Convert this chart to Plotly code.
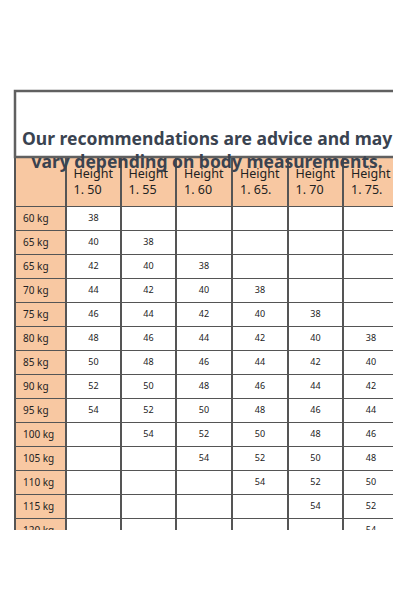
import plotly.graph_objects as go

weights = ["60 kg","65 kg","65 kg","70 kg","75 kg","80 kg","85 kg","90 kg","95 kg","100 kg","105 kg","110 kg","115 kg","120 kg"]
heights = ["Height<br>1. 50","Height<br>1. 55","Height<br>1. 60","Height<br>1. 65.","Height<br>1. 70","Height<br>1. 75."]
h150 = ["38","40","42","44","46","48","50","52","54","","","","",""]
h155 = ["","38","40","42","44","46","48","50","52","54","","","",""]
h160 = ["","","38","40","42","44","46","48","50","52","54","","",""]
h165 = ["","","","38","40","42","44","46","48","50","52","54","",""]
h170 = ["","","","","38","40","42","44","46","48","50","52","54",""]
h175 = ["","","","","","38","40","42","44","46","48","50","52","54"]
title = "Our recommendations are advice and may<br>vary depending on body measurements."

W, H = 401, 601
peach = "#f8c8a2"
line = "#555555"
n = len(weights)

fig = go.Figure(go.Table(
    domain=dict(x=[7/W, 391/W], y=[1-522/H, 1-149/H]),
    columnwidth=[51,55,55,56,56,55,56],
    header=dict(values=["<b>"+h+"</b>" if False else h for h in [""]+heights], fill_color=peach,
                line=dict(color=line, width=1.5),
                font=dict(family="Noto Sans", size=12.5, color="#222"), align="center", height=37),
    cells=dict(values=[weights, h150, h155, h160, h165, h170, h175],
               fill_color=[[peach]*n] + [["white"]*n]*6,
               line=dict(color=line, width=1.5),
               font=dict(family="Noto Sans", size=[10]+[9]*6, color="#222"),
               align=["left"]+["center"]*6, height=24)
))
fig.add_shape(type="rect", xref="paper", yref="paper", x0=7/W, x1=391/W, y0=1-149/H, y1=1-83/H,
              line=dict(color="#606060", width=2.5), fillcolor="white")
fig.add_annotation(text="<b>"+title+"</b>", xref="paper", yref="paper", x=199/W, y=1-116/H,
                   showarrow=False, font=dict(family="Noto Sans", size=17.5, color="#3a4350"))
fig.update_layout(width=W, height=H, margin=dict(l=0, r=0, t=0, b=0),
                  paper_bgcolor="white", plot_bgcolor="white")
fig.write_html("out.html")
